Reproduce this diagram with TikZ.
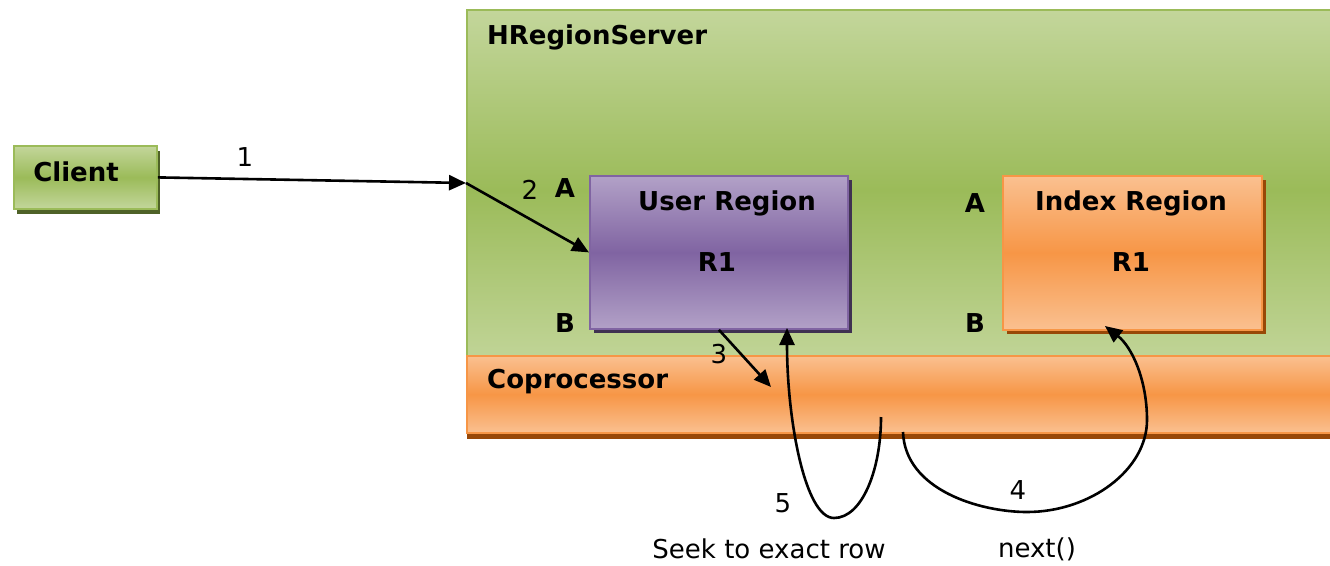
\documentclass[tikz,border=0pt]{standalone}
\usepackage{fontspec}
\setmainfont{DejaVu Sans}
\usetikzlibrary{arrows.meta,shadows}
\definecolor{grnL}{HTML}{C3D69B}
\definecolor{grnM}{HTML}{9BBB59}
\definecolor{grnD}{HTML}{4F6228}
\definecolor{purL}{HTML}{B2A1C7}
\definecolor{purM}{HTML}{8064A2}
\definecolor{purD}{HTML}{3F3151}
\definecolor{orgL}{HTML}{FAC090}
\definecolor{orgM}{HTML}{F79646}
\definecolor{orgD}{HTML}{984807}
\begin{document}
\begin{tikzpicture}[x=1pt,y=-1pt,
  lbl/.style={font=\fontsize{26}{30}\selectfont\bfseries, inner sep=0pt},
  num/.style={font=\fontsize{26}{30}\selectfont, inner sep=0pt},
  captext/.style={font=\fontsize{26}{30}\selectfont, inner sep=0pt},
  box/.style={rectangle, anchor=north west, inner sep=0pt, line width=1.8pt},
  greenbox/.style={box, draw=grnM, top color=grnL, bottom color=grnL, middle color=grnM},
  purplebox/.style={box, draw=purM, top color=purL, bottom color=purL, middle color=purM},
  orangebox/.style={box, draw=orgM, top color=orgL, bottom color=orgL, middle color=orgM},
  conn/.style={line width=2.6pt, -{Triangle[length=17pt,width=15pt]}},
]
\useasboundingbox (0,0) rectangle (1330,565);
\clip (0,0) rectangle (1330,565);

% region server container
\node[greenbox, minimum width=880pt, minimum height=360pt] (server) at (466,9) {};
\node[lbl, anchor=west] (srvname) at (487,37) {HRegionServer};

% coprocessor bar
\node[orangebox, minimum width=880pt, minimum height=77pt,
      drop shadow={shadow xshift=0pt, shadow yshift=-6pt, fill=orgD, opacity=1}]
      (copro) at (466,355) {};
\node[lbl, anchor=west] (coproname) at (487,382) {Coprocessor};

% client
\node[greenbox, minimum width=143pt, minimum height=63pt,
      drop shadow={shadow xshift=3pt, shadow yshift=-5pt, fill=grnD, opacity=1}]
      (client) at (13,145) {};
\node[lbl] (clientname) at (76,172) {Client};

% user region
\node[purplebox, minimum width=258pt, minimum height=153pt,
      drop shadow={shadow xshift=4pt, shadow yshift=-4pt, fill=purD, opacity=1}]
      (ureg) at (589,175) {};
\node[lbl] (uregname) at (727,203) {User Region};
\node[lbl] (uregr1) at (717,262) {R1};
\node[lbl] (ua) at (565,188) {A};
\node[lbl] (ub) at (565,323) {B};

% index region
\node[orangebox, minimum width=259pt, minimum height=154pt,
      drop shadow={shadow xshift=4pt, shadow yshift=-4pt, fill=orgD, opacity=1}]
      (ireg) at (1002,175) {};
\node[lbl] (iregname) at (1131,203) {Index Region};
\node[lbl] (iregr1) at (1131,262) {R1};
\node[lbl] (ia) at (975,203) {A};
\node[lbl] (ib) at (975,323) {B};

% connector end points
\coordinate (entry) at (466,183);
\coordinate (c3) at (771,387);
\coordinate (s5) at (881,417);
\coordinate (u5) at (787,328);
\coordinate (s4) at (903,432);
\coordinate (i4) at (1105,326);

% connectors
\draw[conn] (client.east) -- (entry);
\draw[conn] (entry) -- (ureg.west);
\draw[conn] (ureg.south) -- (c3);
\draw[conn] (s5) .. controls (881,470) and (862,518) .. (834,518)
                 .. controls (805,518) and (787,420) .. (u5);
\draw[conn] (s4) .. controls (905,490) and (980,512) .. (1027,512)
                 .. controls (1090,512) and (1147,470) .. (1147,420)
                 .. controls (1147,380) and (1132,347) .. (i4);

% step numbers
\node[num] (n1) at (245,157) {1};
\node[num] (n2) at (530,190) {2};
\node[num] (n3) at (719,354) {3};
\node[num] (n4) at (1018,490) {4};
\node[num] (n5) at (783,503) {5};

% captions
\node[captext] (seek) at (769,549) {Seek to exact row};
\node[captext] (next) at (1037,549) {next()};
\end{tikzpicture}
\end{document}
